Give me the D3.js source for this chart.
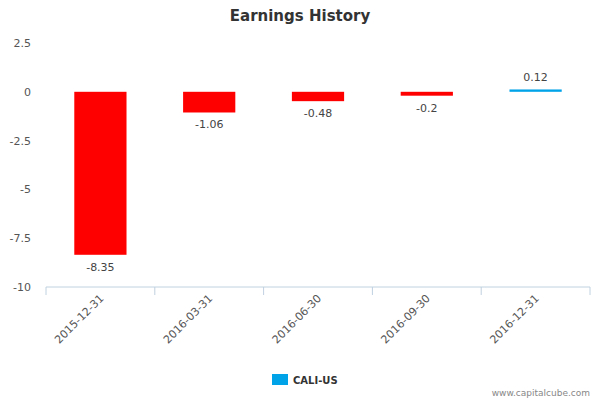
<!DOCTYPE html>
<html>
<head>
<meta charset="utf-8">
<script src="https://cdn.jsdelivr.net/npm/d3@7"></script>
<style>
  body { margin: 0; background: #fff; }
  text { font-family: "DejaVu Sans", sans-serif; }
</style>
</head>
<body>
<div id="chart"></div>
<script>
const categories = ['2015-12-31', '2016-03-31', '2016-06-30', '2016-09-30', '2016-12-31'];
const values = [-8.35, -1.06, -0.48, -0.2, 0.12];
const yTicks = [2.5, 0, -2.5, -5, -7.5, -10];
const seriesName = 'CALI-US';

let margin = { top: 43, left: 46, right: 10, bottom: 113 },
    width = 600 - margin.left - margin.right,
    height = 400 - margin.top - margin.bottom;

let svg = d3.select('#chart').append('svg')
    .attr('width', 600).attr('height', 400);

svg.append('text')
    .attr('x', 300).attr('y', 21)
    .attr('text-anchor', 'middle')
    .attr('font-size', 15).attr('font-weight', 'bold').attr('fill', '#333')
    .text('Earnings History');

let g = svg.append('g').attr('transform', `translate(${margin.left},${margin.top})`);

let x = d3.scaleBand().domain(categories).range([0, width]).paddingInner(0.52).paddingOuter(0.26);
let y = d3.scaleLinear().domain([-10, 2.5]).range([height, 0]);

// y labels
g.selectAll('.ylab').data(yTicks).enter().append('text')
    .attr('x', -15).attr('y', d => y(d) + 4)
    .attr('text-anchor', 'end').attr('font-size', 11).attr('fill', '#555')
    .text(d => d);

// bars
g.selectAll('.bar').data(values).enter().append('rect')
    .attr('x', (d, i) => x(categories[i]))
    .attr('width', x.bandwidth())
    .attr('y', d => y(Math.max(0, d)))
    .attr('height', d => Math.max(2, Math.abs(y(d) - y(0))))
    .attr('fill', d => d < 0 ? '#ff0000' : '#00a2e8');

// value labels
g.selectAll('.vlab').data(values).enter().append('text')
    .attr('x', (d, i) => x(categories[i]) + x.bandwidth() / 2)
    .attr('y', d => d < 0 ? y(d) + 16 : y(d) - 8)
    .attr('text-anchor', 'middle').attr('font-size', 11).attr('fill', '#444')
    .text(d => d);

// x axis
let step = width / categories.length;
g.append('line').attr('x1', 0).attr('x2', width).attr('y1', height).attr('y2', height)
    .attr('stroke', '#c0d0e0');
d3.range(categories.length + 1).forEach(i => {
    g.append('line').attr('x1', i * step).attr('x2', i * step)
        .attr('y1', height).attr('y2', height + 8).attr('stroke', '#c0d0e0');
});
g.selectAll('.xlab').data(categories).enter().append('text')
    .attr('transform', (d, i) => `translate(${x(d) + x.bandwidth() / 2 + 4},${height + 12}) rotate(-45)`)
    .attr('text-anchor', 'end').attr('font-size', 11).attr('fill', '#555')
    .text(d => d);

// legend
svg.append('rect').attr('x', 272).attr('y', 374).attr('width', 16).attr('height', 11).attr('fill', '#00a2e8');
svg.append('text').attr('x', 293).attr('y', 384)
    .attr('font-size', 10).attr('font-weight', 'bold').attr('fill', '#333').text(seriesName);

svg.append('text').attr('x', 590).attr('y', 396).attr('text-anchor', 'end')
    .attr('font-size', 9).attr('fill', '#888').text('www.capitalcube.com');
</script>
</body>
</html>
